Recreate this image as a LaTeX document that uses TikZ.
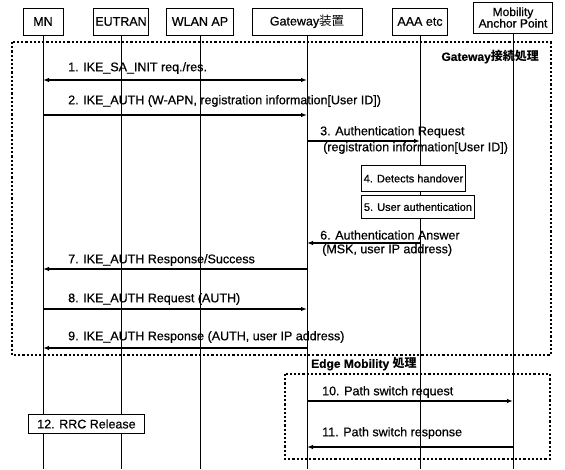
\documentclass[tikz,border=0pt]{standalone}
\usepackage{fontspec}
\setmainfont{Liberation Sans}[FakeBold=0.6]
\newfontfamily\jpfont{Noto Sans CJK JP}
\usetikzlibrary{arrows.meta}
\begin{document}
\begin{tikzpicture}[x=1pt,y=-1pt,font=\fontsize{12.5}{13}\selectfont,
  hdr/.style={draw,line width=0.9pt,fill=white,minimum height=27pt,inner sep=1pt},
  life/.style={line width=1pt},
  msg/.style={line width=1.3pt,-{Latex[length=6pt,width=4.5pt]}},
  msgb/.style={line width=1.3pt,{Latex[length=6pt,width=4.5pt]}-{Latex[length=6pt,width=4.5pt]}},
  lbl/.style={anchor=west,inner sep=0pt},
  act/.style={draw,line width=0.9pt,fill=white,inner sep=0pt,anchor=north west},
  grp/.style={line width=2.2pt,dotted}]
\useasboundingbox (0,0) rectangle (565,469);
% headers
\node[hdr,minimum width=40pt] (MN) at (43,21.5) {MN};
\node[hdr,minimum width=55pt] (EU) at (121,21.5) {EUTRAN};
\node[hdr,minimum width=67pt] (WL) at (200,21.5) {WLAN AP};
\node[hdr,minimum width=110pt] (GW) at (307,21.5) {Gateway\jpfont 装置};
\node[hdr,minimum width=55pt] (AAA) at (420,21.5) {AAA etc};
\node[hdr,minimum width=79pt,minimum height=31pt,align=center,font=\fontsize{12}{11.5}\selectfont] (MAP) at (513,17.5) {Mobility\\Anchor Point};
% lifeline ends
\coordinate (MNe) at (43,469);
\coordinate (EUe) at (121,469);
\coordinate (WLe) at (200,469);
\coordinate (GWe) at (307,469);
\coordinate (AAAe) at (420,469);
\coordinate (MAPe) at (513,469);
\draw[life] (MN.south) -- (MNe);
\draw[life] (EU.south) -- (EUe);
\draw[life] (WL.south) -- (WLe);
\draw[life] (GW.south) -- (GWe);
\draw[life] (AAA.south) -- (AAAe);
\draw[life] (MAP.south) -- (MAPe);
% groups
\draw[grp] (12,42) rectangle (551,355);
\node[anchor=east,inner sep=0pt,font=\fontsize{12}{13}\selectfont\bfseries] (g1) at (539,57) {Gateway{\jpfont\bfseries 接続処理}};
\draw[grp] (285,374) rectangle (550,459);
\node[anchor=west,inner sep=0pt,font=\fontsize{12}{13}\selectfont\bfseries] (g2) at (311,364) {Edge Mobility {\jpfont\bfseries 処理}};
% message endpoints
\foreach \n/\y in {1/80,2/115,3/141,6/243,7/269,8/309,9/348,10/401,11/447}{
  \coordinate (mn\n) at (43,\y);
  \coordinate (gw\n) at (307,\y);
  \coordinate (aaa\n) at (420,\y);
  \coordinate (map\n) at (513,\y);
}
\draw[msgb] (mn1) -- (gw1);
\node[lbl] (l1) at (68,68) {1. IKE\_SA\_INIT req./res.};
\draw[msg] (mn2) -- (gw2);
\node[lbl] (l2) at (68,101) {2. IKE\_AUTH (W-APN, registration information[User ID])};
\draw[msg] (gw3) -- (aaa3);
\node[lbl] (l3a) at (320,132) {3. Authentication Request};
\node[lbl] (l3b) at (323,148) {(registration information[User ID])};
\node[act,minimum width=104pt,minimum height=26pt,font=\fontsize{11}{12}\selectfont] (a4) at (361,165) {4. Detects handover};
\node[act,minimum width=113pt,minimum height=23pt,font=\fontsize{11}{12}\selectfont] (a5) at (361,195) {5. User authentication};
\draw[msg] (aaa6) -- (gw6);
\node[lbl] (l6a) at (320,235) {6. Authentication Answer};
\node[lbl] (l6b) at (322,250) {(MSK, user IP address)};
\draw[msg] (gw7) -- (mn7);
\node[lbl] (l7) at (68,260) {7. IKE\_AUTH Response/Success};
\draw[msg] (mn8) -- (gw8);
\node[lbl] (l8) at (68,299) {8. IKE\_AUTH Request (AUTH)};
\draw[msg] (gw9) -- (mn9);
\node[lbl] (l9) at (68,337) {9. IKE\_AUTH Response (AUTH, user IP address)};
\draw[msg] (gw10) -- (map10);
\node[lbl] (l10) at (322,392) {10. Path switch request};
\draw[msg] (map11) -- (gw11);
\node[lbl] (l11) at (322,433) {11. Path switch response};
\node[act,minimum width=116pt,minimum height=19pt] (a12) at (28,414) {12. RRC Release};
\end{tikzpicture}
\end{document}
